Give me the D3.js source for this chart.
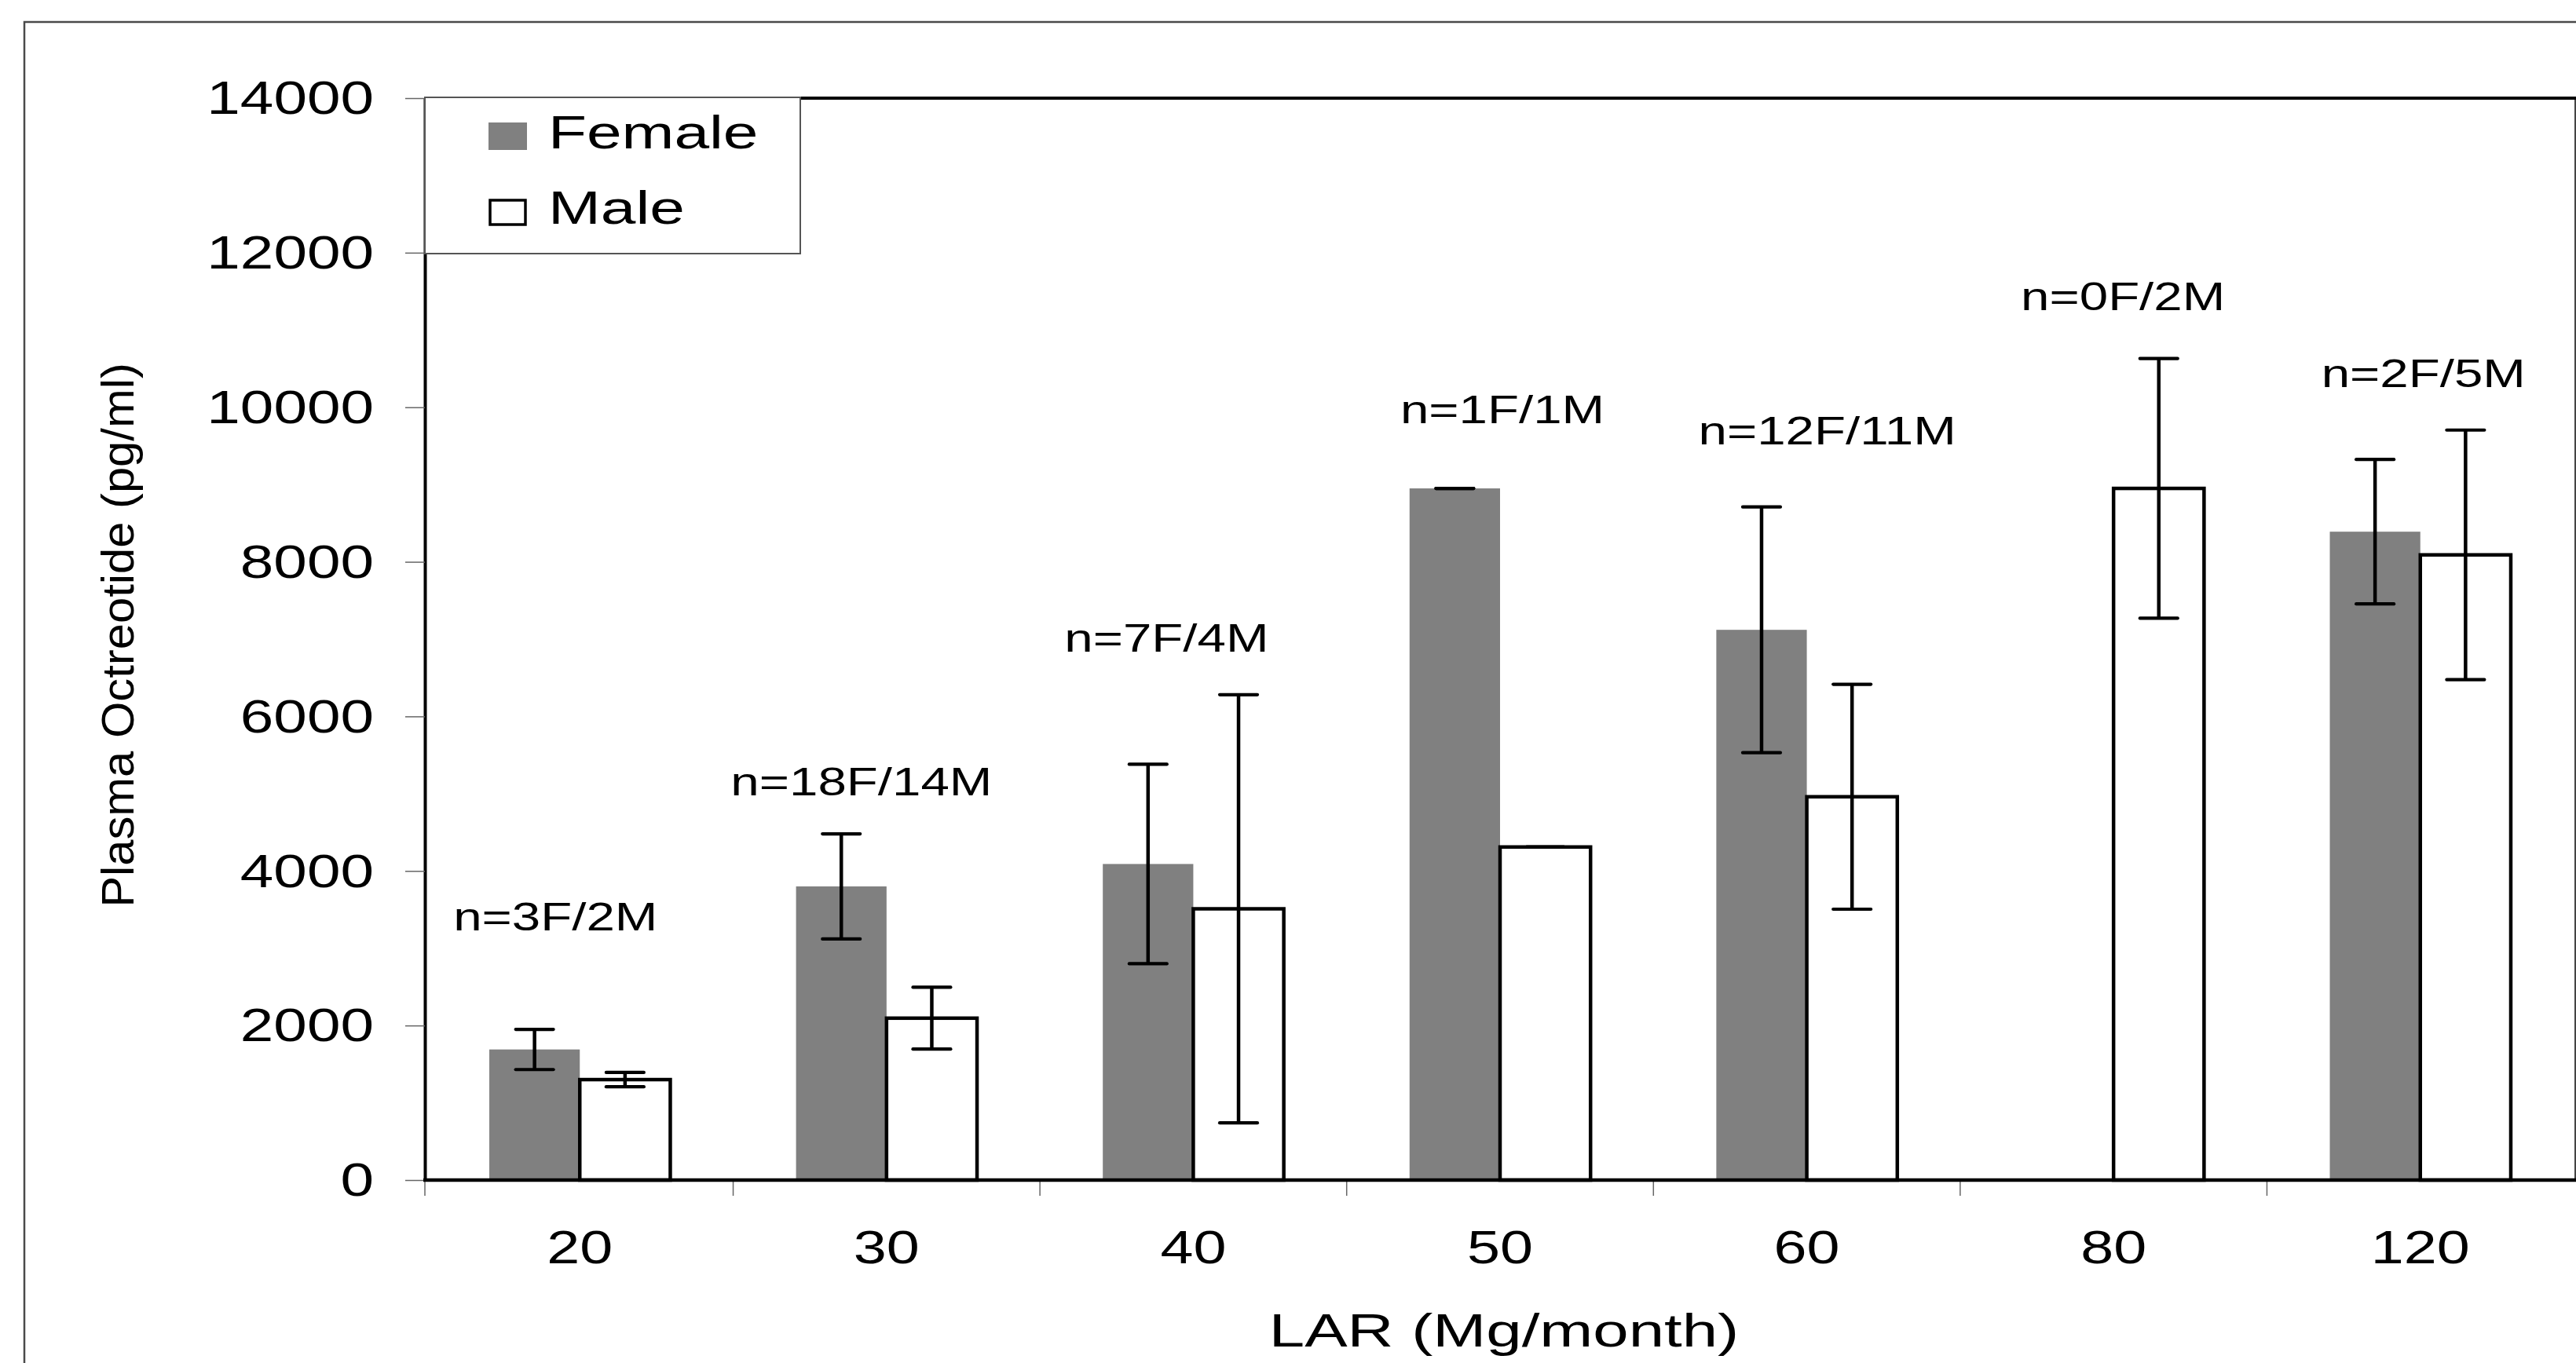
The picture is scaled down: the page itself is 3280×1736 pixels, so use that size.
<!DOCTYPE html>
<html>
<head>
<meta charset="utf-8">
<script src="https://cdn.jsdelivr.net/npm/d3@7"></script>
<style>
  html, body { margin: 0; padding: 0; background: #fff; }
  text { font-family: "Liberation Sans", Arial, sans-serif; fill: #000; }
</style>
</head>
<body>
<svg id="chart" width="3280" height="1736"></svg>
<script>
// LAR dose groups (mg/month)
var categories = ["20", "30", "40", "50", "60", "80", "120"];
var series = ["Female", "Male"];

// plasma octreotide means (pg/ml) and error bar half-widths
var female = [1690, 3800, 4090, 8950, 7120, 0, 8390];
var femaleErr = [260, 680, 1290, 0, 1590, 0, 935];
var male = [1300, 2095, 3510, 4310, 4960, 8950, 8090];
var maleErr = [93, 400, 2770, 0, 1455, 1680, 1615];

// sample size notes and the height (in pg/ml) where each one sits
var sampleNotes = ["n=3F/2M", "n=18F/14M", "n=7F/4M", "n=1F/1M", "n=12F/11M", "n=0F/2M", "n=2F/5M"];
var noteLevel = [3235, 4974, 6833, 9792, 9517, 11257, 10263];

var yTicks = [0, 2000, 4000, 6000, 8000, 10000, 12000, 14000];

// layout
var plotLeft = 541, plotRight = 3279, plotTop = 125, plotBottom = 1503;
var noteNudge = [-31, -32, -34, 3, 26, 12, 4];

var svg = d3.select("#chart");

var x0 = d3.scaleBand()
    .domain(categories)
    .range([plotLeft, plotRight])
    .paddingInner(0.41)
    .paddingOuter(0.21);
var x1 = d3.scaleBand()
    .domain(series)
    .range([0, x0.bandwidth()]);
var y = d3.scaleLinear()
    .domain([0, 14000])
    .range([plotBottom, plotTop]);

var rows = categories.map(function(c, i) {
    return {cat: c, f: female[i], fe: femaleErr[i], m: male[i], me: maleErr[i],
        note: sampleNotes[i], level: noteLevel[i], nudge: noteNudge[i]};
});

// outer frame (runs off the right and bottom of the picture)
svg.append("rect")
    .attr("x", 31).attr("y", 28)
    .attr("width", 3400).attr("height", 1900)
    .attr("fill", "none")
    .attr("stroke", "#4a4a4a")
    .attr("stroke-width", 2.5);

// plot frame: thin right side, heavy top
svg.append("line")
    .attr("x1", plotRight).attr("x2", plotRight)
    .attr("y1", plotTop).attr("y2", plotBottom)
    .attr("stroke", "#444").attr("stroke-width", 2);
svg.append("line")
    .attr("x1", plotLeft).attr("x2", plotRight + 1)
    .attr("y1", plotTop).attr("y2", plotTop)
    .attr("stroke", "#000").attr("stroke-width", 4);

// bars
var groups = svg.append("g").selectAll("g")
    .data(rows)
    .join("g")
    .attr("transform", function(d) { return "translate(" + x0(d.cat) + ",0)"; });

groups.append("rect")
    .attr("x", x1("Female"))
    .attr("y", function(d) { return y(d.f); })
    .attr("width", x1.bandwidth())
    .attr("height", function(d) { return y(0) - y(d.f); })
    .attr("fill", "#808080");

groups.filter(function(d) { return d.m > 0; }).append("rect")
    .attr("x", x1("Male"))
    .attr("y", function(d) { return y(d.m); })
    .attr("width", x1.bandwidth())
    .attr("height", function(d) { return y(0) - y(d.m); })
    .attr("fill", "#fff")
    .attr("stroke", "#000")
    .attr("stroke-width", 4.5);

// error bars
var capHalf = 24;
function errorBar(g, key, val, err) {
    var cx = x1(key) + x1.bandwidth() / 2;
    g.append("line")
        .attr("x1", cx).attr("x2", cx)
        .attr("y1", function(d) { return y(d[val] + d[err]); })
        .attr("y2", function(d) { return y(d[val] - d[err]); })
        .attr("stroke", "#000").attr("stroke-width", 4.5);
    [1, -1].forEach(function(sign) {
        g.append("line")
            .attr("x1", cx - capHalf).attr("x2", cx + capHalf)
            .attr("y1", function(d) { return y(d[val] + sign * d[err]); })
            .attr("y2", function(d) { return y(d[val] + sign * d[err]); })
            .attr("stroke", "#000").attr("stroke-width", 4.2)
            .attr("stroke-linecap", "round");
    });
}
errorBar(groups, "Female", "f", "fe");
errorBar(groups, "Male", "m", "me");

// y axis
var yAxis = svg.append("g")
    .attr("transform", "translate(" + plotLeft + ",0)")
    .call(d3.axisLeft(y).tickValues(yTicks).tickSize(25).tickSizeOuter(0).tickFormat(d3.format("d")));
yAxis.select(".domain").attr("stroke", "#000").attr("stroke-width", 4);
yAxis.selectAll(".tick line").attr("stroke", "#666").attr("stroke-width", 1.5);
yAxis.selectAll(".tick text")
    .attr("x", 0)
    .attr("dy", "0.33em")
    .attr("transform", "translate(-65,0) scale(1.275,1)")
    .style("font-size", "60px")
    .style("font-family", '"Liberation Sans", Arial, sans-serif')
    .attr("fill", "#000");

// x axis: labels at group centres, tick marks at group boundaries
var xAxis = svg.append("g")
    .attr("transform", "translate(0," + plotBottom + ")")
    .call(d3.axisBottom(x0).tickSize(0).tickSizeOuter(0));
xAxis.select(".domain").remove();
xAxis.selectAll(".tick text")
    .attr("y", 0)
    .attr("dy", 0)
    .attr("transform", "translate(0,106) scale(1.28,1)")
    .style("font-size", "59px")
    .style("font-family", '"Liberation Sans", Arial, sans-serif')
    .attr("fill", "#000");

var boundaries = categories.map(function(c) { return x0(c) - x0.step() * x0.paddingInner() / 2; });
boundaries[0] = plotLeft;
svg.append("g").selectAll("line")
    .data(boundaries)
    .join("line")
    .attr("x1", function(d) { return d; }).attr("x2", function(d) { return d; })
    .attr("y1", plotBottom).attr("y2", plotBottom + 20)
    .attr("stroke", "#666").attr("stroke-width", 1.5);

svg.append("line")
    .attr("x1", plotLeft - 2).attr("x2", plotRight + 1)
    .attr("y1", plotBottom).attr("y2", plotBottom)
    .attr("stroke", "#000").attr("stroke-width", 4.5);

// sample size notes
svg.append("g").selectAll("text")
    .data(rows)
    .join("text")
    .attr("text-anchor", "middle")
    .attr("transform", function(d) {
        var cx = x0(d.cat) + x0.bandwidth() / 2 + d.nudge;
        return "translate(" + cx + "," + y(d.level) + ") scale(1.31,1)";
    })
    .style("font-size", "50px")
    .text(function(d) { return d.note; });

// axis titles
svg.append("text")
    .attr("text-anchor", "middle")
    .attr("transform", "translate(1915,1715) scale(1.36,1)")
    .style("font-size", "60px")
    .text("LAR (Mg/month)");

svg.append("text")
    .attr("text-anchor", "middle")
    .attr("transform", "translate(170,809) rotate(-90) scale(1.03,1)")
    .style("font-size", "58px")
    .text("Plasma Octreotide (pg/ml)");

// legend
var legend = svg.append("g");
legend.append("rect")
    .attr("x", plotLeft).attr("y", 124)
    .attr("width", 478).attr("height", 199)
    .attr("fill", "#fff")
    .attr("stroke", "#555").attr("stroke-width", 2);
legend.append("rect")
    .attr("x", 622).attr("y", 156)
    .attr("width", 49).attr("height", 35)
    .attr("fill", "#808080");
legend.append("rect")
    .attr("x", 624).attr("y", 255)
    .attr("width", 45).attr("height", 31)
    .attr("fill", "#fff")
    .attr("stroke", "#000").attr("stroke-width", 3.5);
legend.selectAll("text.key")
    .data(series)
    .join("text")
    .attr("class", "key")
    .attr("transform", function(d, i) { return "translate(698," + (189 + i * 96) + ") scale(1.36,1)"; })
    .style("font-size", "59px")
    .text(function(d) { return d; });
</script>
</body>
</html>
